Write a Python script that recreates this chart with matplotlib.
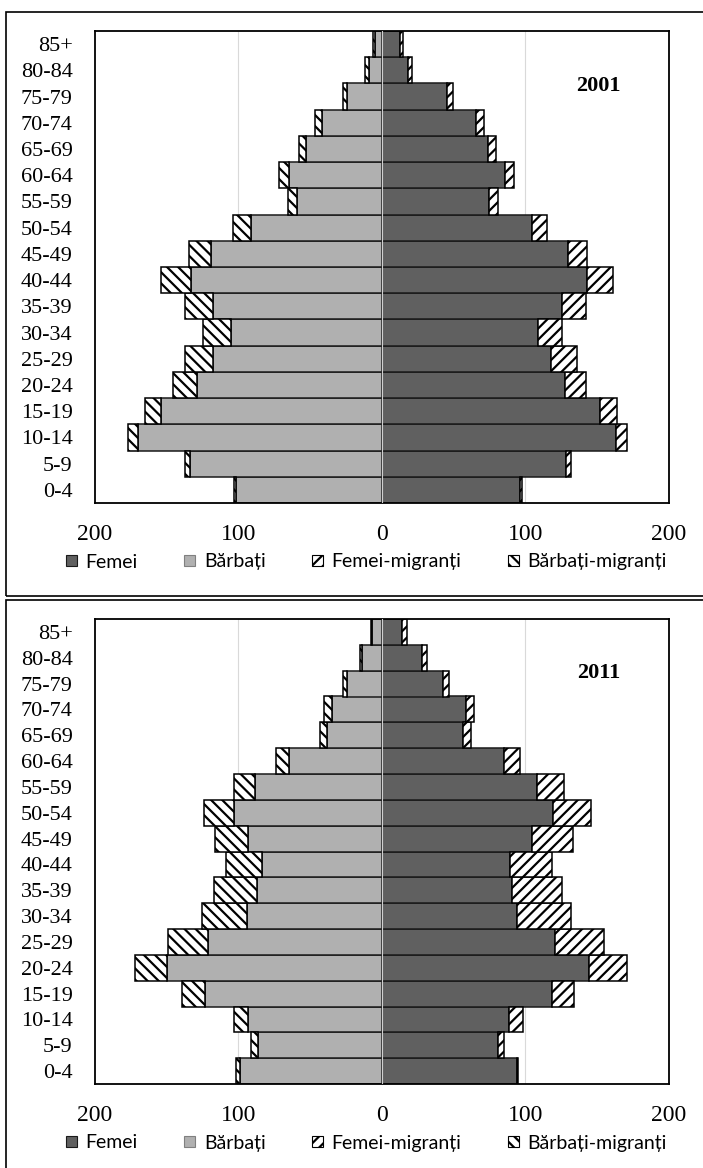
import matplotlib.pyplot as plt
from matplotlib.patches import Patch, Rectangle

ages = ['0-4', '5-9', '10-14', '15-19', '20-24', '25-29', '30-34', '35-39', '40-44',
        '45-49', '50-54', '55-59', '60-64', '65-69', '70-74', '75-79', '80-84', '85+']

# 2001 (de jos in sus: 0-4 ... 85+)
barbati_2001 = [102, 134, 170, 154, 129, 118, 105, 118, 133, 119, 91, 59, 65, 53, 42, 24, 9, 5]
barbati_migr_2001 = [1, 3.5, 7, 11, 16.5, 19.5, 20, 19.5, 21, 15.5, 12.5, 6.5, 6.5, 5, 4.5, 3, 2.5, 1]
femei_2001 = [96.5, 128.5, 163.5, 152, 127.5, 118, 109, 125.5, 143, 130, 104.5, 75, 86, 74, 66, 45.5, 18, 13]
femei_migr_2001 = [1, 3.5, 7.5, 12, 15, 18.5, 17, 17, 18, 13.5, 11, 6, 6, 6, 5, 4, 3, 1.5]

# 2011
barbati_2011 = [99, 86.5, 93, 123.5, 150, 121, 94, 87, 83.5, 93, 103, 88.5, 65, 38, 35, 24, 13.5, 6.5]
barbati_migr_2011 = [2.5, 4.5, 10, 15.5, 22, 28, 31.5, 30, 25, 23.5, 21, 14.5, 9, 5, 5, 3.2, 2, 0.7]
femei_2011 = [94, 81, 89, 118.5, 144.5, 121, 94.5, 90.5, 89.5, 104.5, 119.5, 108.5, 85, 57, 58.5, 43, 28, 14.4]
femei_migr_2011 = [1.2, 4.6, 9.3, 15.8, 26.5, 34, 37.2, 35.5, 29, 29, 26.7, 18.6, 11.5, 5, 6, 4.2, 3.3, 3]

c_femei = '#606060'
c_barbati = '#b0b0b0'
c_edge = '#1a1a1a'
serif = 'Liberation Serif'
sans = ['Lato', 'DejaVu Sans']

plt.rcParams['hatch.linewidth'] = 1.6
plt.rcParams['hatch.color'] = 'black'

W, H = 703, 1168
fig = plt.figure(figsize=(W / 100, H / 100), dpi=100)


def px_axes(left, top, right, bottom):
    return fig.add_axes([left / W, 1 - bottom / H, (right - left) / W, (bottom - top) / H])


def pyramid(ax, barbati, barbati_m, femei, femei_m, an):
    y = range(len(ages))
    neg_b = [-v for v in barbati]
    neg_bm = [-v for v in barbati_m]
    ax.barh(y, femei, height=1.0, color=c_femei, edgecolor=c_edge, lw=1.1, zorder=2)
    ax.barh(y, femei_m, left=femei, height=1.0, color='white', edgecolor='black',
            hatch='///', lw=1.1, zorder=2)
    ax.barh(y, neg_b, height=1.0, color=c_barbati, edgecolor=c_edge, lw=1.1, zorder=2)
    ax.barh(y, neg_bm, left=neg_b, height=1.0, color='white', edgecolor='black',
            hatch='\\\\\\', lw=1.1, zorder=2)
    ax.axvline(0, color='#d0d0d0', lw=0.8, zorder=3)
    for g in (-100, 100):
        ax.axvline(g, color='#d9d9d9', lw=0.8, zorder=0)
    ax.set_xlim(-200, 200)
    ax.set_ylim(-0.5, len(ages) - 0.5)
    ax.set_xticks([-200, -100, 0, 100, 200])
    ax.set_xticklabels(['200', '100', '0', '100', '200'], fontfamily=serif, fontsize=17)
    ax.set_yticks(list(y))
    ax.set_yticklabels(ages, fontfamily=serif, fontsize=16)
    ax.tick_params(axis='x', length=0, pad=15)
    ax.tick_params(axis='y', length=0, pad=16)
    for s in ax.spines.values():
        s.set_linewidth(1.3)
        s.set_color('black')
    ax.text(0.878, 0.884, an, transform=ax.transAxes, ha='center', va='center',
            fontfamily=serif, fontsize=16, fontweight='bold')


ax1 = px_axes(95, 31, 668.5, 503)
pyramid(ax1, barbati_2001, barbati_migr_2001, femei_2001, femei_migr_2001, '2001')
ax2 = px_axes(95, 619, 668.5, 1084)
pyramid(ax2, barbati_2011, barbati_migr_2011, femei_2011, femei_migr_2011, '2011')

handles = [
    Patch(facecolor=c_femei, edgecolor=c_edge, lw=0.8, label='Femei'),
    Patch(facecolor=c_barbati, edgecolor='#808080', lw=0.8, label='Bărbați'),
    Patch(facecolor='white', edgecolor='black', hatch='///', lw=0.8, label='Femei-migranți'),
    Patch(facecolor='white', edgecolor='black', hatch='\\\\\\', lw=0.8, label='Bărbați-migranți'),
]
for yc in (562, 1143):
    fig.legend(handles=handles, loc='center', bbox_to_anchor=(366.5 / W, 1 - yc / H),
               ncol=4, frameon=False, prop={'family': sans, 'size': 14},
               handlelength=0.55, handleheight=0.55, handletextpad=0.45,
               columnspacing=2.4, borderaxespad=0)

# chenarele celor doua panouri
fig.patches.append(Rectangle((6 / W, 1 - 596 / H), 1.0, (596 - 12) / H,
                             transform=fig.transFigure, fill=False, ec='black', lw=1.2))
fig.patches.append(Rectangle((6 / W, -0.1), 1.0, 0.1 + (1 - 600 / H),
                             transform=fig.transFigure, fill=False, ec='black', lw=1.2))

fig.savefig('out.png', dpi=100)
